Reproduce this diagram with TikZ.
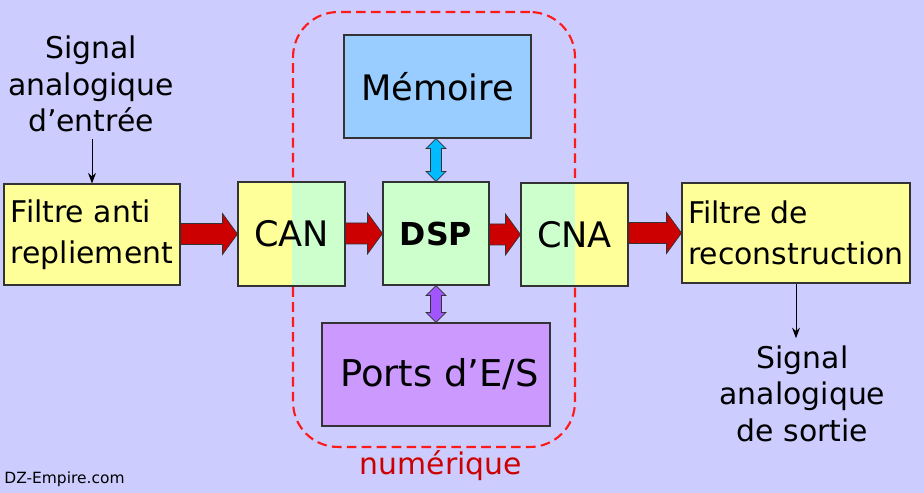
\documentclass[tikz,border=0pt]{standalone}
\usepackage{fontspec}
\setmainfont{DejaVu Sans}
\usetikzlibrary{calc,arrows.meta}
\definecolor{fondlilas}{HTML}{CCCCFF}
\definecolor{jaunepale}{HTML}{FFFF99}
\definecolor{vertpale}{HTML}{CCFFCC}
\definecolor{bleuciel}{HTML}{99CCFF}
\definecolor{mauve}{HTML}{CC99FF}
\definecolor{rougefleche}{HTML}{CC0000}
\definecolor{rougezone}{HTML}{FF1A1A}
\definecolor{cyanfleche}{HTML}{00BBFF}
\definecolor{violetfleche}{HTML}{A155FF}
\definecolor{bordgris}{HTML}{333333}

\tikzset{
  bloc/.style={draw=bordgris, line width=0.6pt, inner sep=0pt},
  moitie/.style={fill=jaunepale, path picture={
      \fill[vertpale] (path picture bounding box.#1) rectangle (path picture bounding box.south east);}},
  fleche/.style={fill=rougefleche, draw=bordgris, line width=0.4pt},
  texte/.style={font=\fontsize{17}{20.7}\selectfont, align=center, inner sep=4pt},
  fine/.style={-{Stealth[length=6pt,width=4.5pt]}, line width=0.5pt},
}

% grosse fleche rouge horizontale entre deux blocs
\newcommand{\grossefleche}[2]{%
  \draw[fleche] ($(#1.east |- #2.west)+(0,-10.5)$) -- ($(#2.west)+(-15,-10.5)$)
    -- ($(#2.west)+(-15,-20.5)$) -- (#2.west) -- ($(#2.west)+(-15,20.5)$)
    -- ($(#2.west)+(-15,10.5)$) -- ($(#1.east |- #2.west)+(0,10.5)$) -- cycle;}
% double fleche verticale
\newcommand{\doublefleche}[3]{%
  \draw[fill=#1, draw=bordgris, line width=0.4pt]
    (#3.north |- #2.south) -- ($(#3.north |- #2.south)+(10,10)$) -- ($(#3.north |- #2.south)+(5.5,10)$)
    -- ($(#3.north)+(5.5,-10)$) -- ($(#3.north)+(10,-10)$) -- (#3.north)
    -- ($(#3.north)+(-10,-10)$) -- ($(#3.north)+(-5.5,-10)$)
    -- ($(#3.north |- #2.south)+(-5.5,10)$) -- ($(#3.north |- #2.south)+(-10,10)$) -- cycle;}

\begin{document}
\begin{tikzpicture}[x=0.02cm, y=-0.02cm]
  \fill[fondlilas] (0,0) rectangle (924,493);
  \useasboundingbox (0,0) rectangle (924,493);

  % zone numerique
  \node[draw=rougezone, line width=1.2pt, dash pattern=on 5.5pt off 3pt, rounded corners=0.9cm,
        minimum width=5.64cm, minimum height=8.7cm] (zone) at (434,229.5) {};
  \node[text=rougefleche, font=\fontsize{17}{20}\selectfont] (numlabel) at (441,466) {numérique};

  % blocs
  \node[bloc, fill=jaunepale, minimum width=3.52cm, minimum height=2.02cm, align=left,
        font=\fontsize{17}{23.5}\selectfont] (fa) at (92,234.5) {Filtre anti\\repliement};
  \node[bloc, moitie=north, minimum width=2.14cm, minimum height=2.08cm,
        font=\fontsize{20}{24}\selectfont] (can) at (291.5,234) {CAN};
  \node[bloc, fill=vertpale, minimum width=2.12cm, minimum height=2.06cm,
        font=\fontsize{18}{24}\selectfont\bfseries] (dsp) at (436,233.5) {DSP};
  \node[bloc, fill=jaunepale, path picture={
      \fill[vertpale] (path picture bounding box.south west) rectangle (path picture bounding box.north);},
        minimum width=2.14cm, minimum height=2.06cm,
        font=\fontsize{20}{24}\selectfont] (cna) at (574.5,234.5) {CNA};
  \node[bloc, fill=jaunepale, minimum width=4.56cm, minimum height=2cm, align=left,
        font=\fontsize{17}{23.5}\selectfont] (fr) at (796,233) {Filtre de\\reconstruction};
  \node[bloc, fill=bleuciel, minimum width=3.74cm, minimum height=2.06cm,
        font=\fontsize{20}{24}\selectfont] (mem) at (437.5,86.5) {Mémoire};
  \node[bloc, fill=mauve, minimum width=4.56cm, minimum height=2.06cm,
        font=\fontsize{21}{24}\selectfont] (ports) at (436,374.5) {\hspace*{0.14cm}Ports d’E/S};

  % signaux
  \node[texte] (sigin) at (91,84) {Signal\\analogique\\d’entrée};
  \node[texte] (sigout) at (802.5,393.5) {Signal\\analogique\\de sortie};
  \draw[fine] (fa.north |- sigin.south) -- (fa.north);
  \draw[fine] (fr.south) -- (fr.south |- sigout.north);

  % fleches
  \grossefleche{fa}{can}
  \grossefleche{can}{dsp}
  \grossefleche{dsp}{cna}
  \grossefleche{cna}{fr}
  \doublefleche{cyanfleche}{mem}{dsp}
  \doublefleche{violetfleche}{dsp}{ports}

  \node[anchor=south west, inner sep=0pt, font=\fontsize{8.8}{10}\selectfont] (site) at (4,487) {DZ-Empire.com};
\end{tikzpicture}
\end{document}
